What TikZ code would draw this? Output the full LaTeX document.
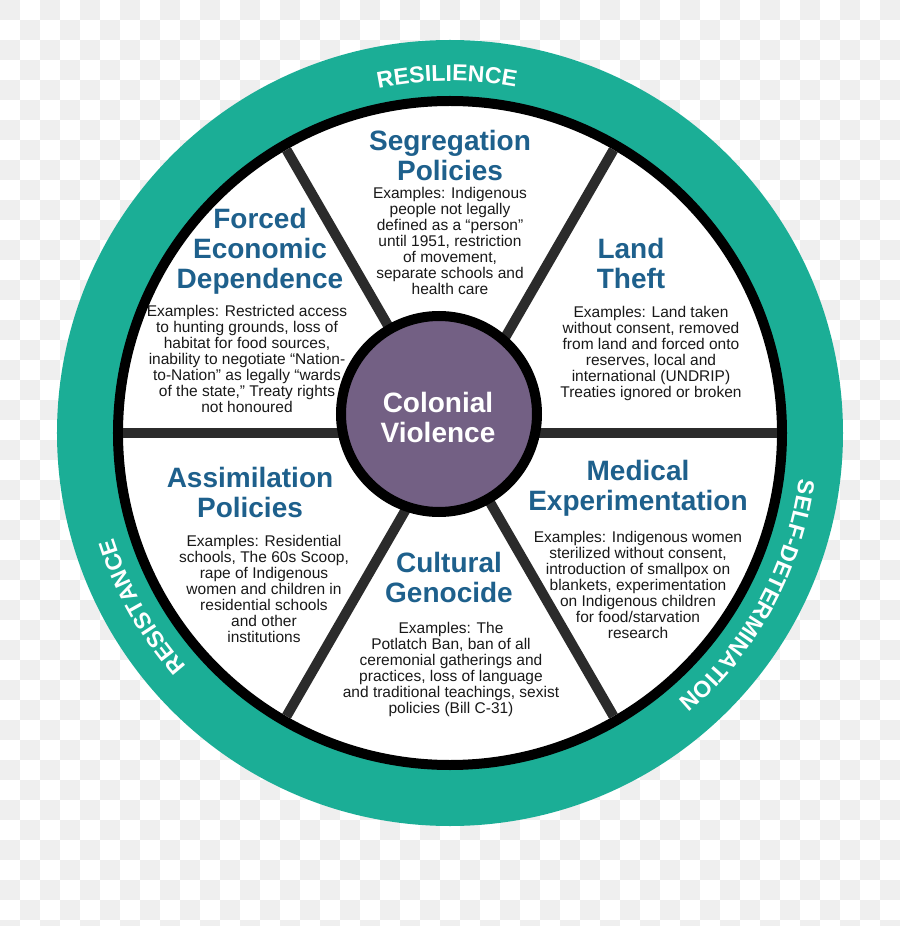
\documentclass[tikz,border=0pt]{standalone}
\usepackage{fontspec}
\setmainfont{Liberation Sans}
\usetikzlibrary{decorations.text}

\definecolor{ringteal}{RGB}{27,174,150}
\definecolor{titleblue}{RGB}{30,96,140}
\definecolor{hubpurple}{RGB}{115,96,132}
\definecolor{spokegray}{RGB}{43,43,43}
\definecolor{bodyblack}{RGB}{25,25,25}
\definecolor{checkgray}{RGB}{239,239,239}

\begin{document}
\begin{tikzpicture}[x=1pt, y=1pt,
	title/.style={text=titleblue, font=\fontsize{28}{30}\selectfont\bfseries, align=center, inner sep=0pt},
	body/.style={text=bodyblack, font=\fontsize{15.5}{16}\selectfont, align=center, inner sep=0pt},
	hubtext/.style={text=white, font=\fontsize{28}{30}\selectfont\bfseries, align=center, inner sep=0pt},
	spoke/.style={line width=10pt, spokegray},
	ringlabel/.style={decorate, decoration={text along path, text align=center,
		text={|\fontsize{23}{23}\selectfont\bfseries\color{white}|#1}}}
]
	% checkered background
	\begin{scope}
		\clip (-450,-493) rectangle (450,433);
		\foreach \i in {0,...,44} {
			\foreach \j in {0,...,46} {
				\pgfmathtruncatemacro\odd{mod(\i+\j,2)}
				\ifnum\odd=0 \fill[checkgray] (\i*20-450, 433-\j*20) rectangle ++(20,-20); \fi
			}
		}
	\end{scope}
	\useasboundingbox (-450,-493) rectangle (450,433);

	% rings
	\fill[ringteal] (0,0) circle (393);
	\draw[line width=10pt, fill=white] (0,0) circle (332);

	\foreach \a in {0,60,...,300} {
		\draw[spoke] (0,0) -- (\a:327);
	}

	\draw[line width=10pt, fill=hubpurple] (-11,19) circle (98);
	\node[hubtext] (colonial) at (-12,16) {Colonial\\Violence};

	% ring labels
	\path[ringlabel=RESILIENCE] (130.5:352) arc[start angle=130.5, end angle=50.5, radius=352];
	\path[ringlabel=RESISTANCE] (249.4:352) arc[start angle=249.4, end angle=169.4, radius=352];
	\path[ringlabel=SELF-DETERMINATION] (31.5:352) arc[start angle=31.5, end angle=-88.5, radius=352];

	% sectors
	\node[title] (segtitle) at (0,278) {Segregation\\Policies};
	\node[body] (segbody) at (0,192) {Examples: Indigenous\\people not legally\\defined as a “person”\\until 1951, restriction\\of movement,\\separate schools and\\health care};

	\node[title] (landtitle) at (181,170) {Land\\Theft};
	\node[body] (landbody) at (201,79.5) {Examples: Land taken\\without consent, removed\\from land and forced onto\\reserves, local and\\international (UNDRIP)\\Treaties ignored or broken};

	\node[title] (medtitle) at (188,-55) {Medical\\Experimentation};
	\node[body] (medbody) at (188,-151.5) {Examples: Indigenous women\\sterilized without consent,\\introduction of smallpox on\\blankets, experimentation\\on Indigenous children\\for food/starvation\\research};

	\node[title] (culttitle) at (-1,-144) {Cultural\\Genocide};
	\node[body] (cultbody) at (1,-236.5) {Examples: The\\Potlatch Ban, ban of all\\ceremonial gatherings and\\practices, loss of language\\and traditional teachings, sexist\\policies (Bill C-31)};

	\node[title] (assimtitle) at (-200,-59) {Assimilation\\Policies};
	\node[body] (assimbody) at (-186,-155.5) {Examples: Residential\\schools, The 60s Scoop,\\rape of Indigenous\\women and children in\\residential schools\\and other\\institutions};

	\node[title] (forcedtitle) at (-190,182) {Forced\\Economic\\Dependence};
	\node[body] (forcedbody) at (-203,74) {Examples: Restricted access\\to hunting grounds, loss of\\habitat for food sources,\\inability to negotiate “Nation-\\to-Nation” as legally “wards\\of the state,” Treaty rights\\not honoured};
\end{tikzpicture}
\end{document}
